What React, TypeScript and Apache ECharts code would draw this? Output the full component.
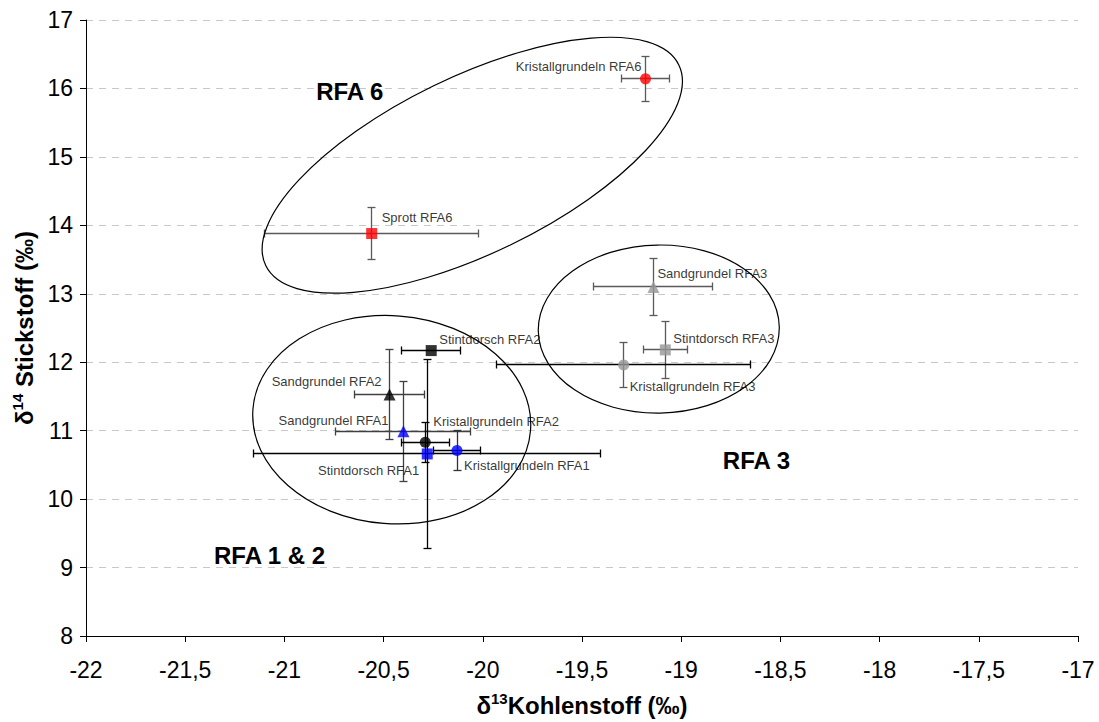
import React, { useEffect, useRef } from "react";
import * as echarts from "echarts";

// ---- data ----
const NAMES = [
  "Kristallgrundeln RFA6",
  "Sprott RFA6",
  "Sandgrundel RFA3",
  "Stintdorsch RFA3",
  "Kristallgrundeln RFA3",
  "Stintdorsch RFA2",
  "Sandgrundel RFA2",
  "Sandgrundel RFA1",
  "Kristallgrundeln RFA2",
  "Kristallgrundeln RFA1",
  "Stintdorsch RFA1",
];
const C13 = [-19.18, -20.56, -19.14, -19.08, -19.29, -20.26, -20.47, -20.4, -20.29, -20.13, -20.28];
const N15 = [16.14, 13.88, 13.1, 12.18, 11.96, 12.17, 11.53, 10.99, 10.83, 10.71, 10.66];
const C13_ERR = [0.12, 0.54, 0.3, 0.11, 0.64, 0.15, 0.175, 0.34, 0.12, 0.12, 0.875];
const N15_ERR = [0.33, 0.38, 0.42, 0.42, 0.33, 0, 0.66, 0.73, 0.29, 0.29, 1.38];

const X_MIN = -22;
const X_MAX = -17;
const X_STEP = 0.5;
const Y_MIN = 8;
const Y_MAX = 17;
const Y_STEP = 1;

const REGION_LABELS = ["RFA 6", "RFA 1 & 2", "RFA 3"];
const REGION_ANCHOR_X = [-20.84, -21.355, -18.79];
const REGION_ANCHOR_Y = [15.96, 9.17, 10.57];

// ellipse centres (data units)
const ELLIPSE_CX = [-20.053, -20.459, -19.113];
const ELLIPSE_CY = [14.878, 11.16, 12.485];

// ---- styles ----
const RED = "#ff0000";
const BLUE = "#0000ff";
const BLACK = "#000000";
const GREY = "#969696";
const SYMBOLS = ["circle", "rect", "triangle", "rect", "circle", "rect", "triangle", "triangle", "circle", "circle", "rect"];
const COLORS = [RED, RED, GREY, GREY, GREY, BLACK, BLACK, BLUE, BLACK, BLUE, BLUE];
const SIZES = [11, 11, 12, 11, 11, 11, 12, 12, 11, 11, 11];
const EX_COLORS = ["#5a5a5a", "#5a5a5a", "#5a5a5a", "#5a5a5a", "#000", "#000", "#404040", "#404040", "#000", "#000", "#000"];
const EY_COLORS = ["#5a5a5a", "#5a5a5a", "#5a5a5a", "#5a5a5a", "#5a5a5a", "#000", "#404040", "#404040", "#000", "#333", "#000"];
const LABEL_ALIGN = ["right", "left", "left", "left", "left", "left", "right", "right", "left", "left", "right"];
const LABEL_OFFSET = [
  [-4, -12],
  [10, -16],
  [4, -13],
  [8, -11],
  [6, 22],
  [8, -11],
  [-8, -13],
  [-15, -11],
  [8, -21],
  [7, 15],
  [-8, 17],
];
const ELLIPSE_RX = [229.5, 139.2, 120.5];
const ELLIPSE_RY = [88.3, 104, 84];
const ELLIPSE_ROT_DEG = [25.9, -4.4, 1];

const FONT = '"Liberation Sans", Arial, sans-serif';

export default function App() {
  const ref = useRef<HTMLDivElement>(null);

  useEffect(() => {
    const chart = echarts.init(ref.current!, null, { renderer: "svg" });

    const scatterData = NAMES.map((name, i) => ({
      name,
      value: [C13[i], N15[i]],
      symbol: SYMBOLS[i],
      symbolSize: SIZES[i],
      itemStyle: { color: COLORS[i] },
      label: {
        show: true,
        formatter: name,
        position: "inside",
        align: LABEL_ALIGN[i],
        verticalAlign: "middle",
        offset: LABEL_OFFSET[i],
        color: "#000",
        fontSize: 13,
        fontFamily: FONT,
      },
    }));

    const errData = NAMES.map((_, i) => [C13[i], N15[i]]);

    const crisp = (v: number) => Math.round(v - 0.5) + 0.5;

    const titleRich = {
      b: { fontSize: 24, fontWeight: "bold", fontFamily: FONT, color: "#000", lineHeight: 28 },
      s: { fontSize: 15, fontWeight: "bold", fontFamily: FONT, color: "#000", verticalAlign: "top", lineHeight: 28 },
    };

    const option: any = {
      animation: false,
      backgroundColor: "#fff",
      grid: { left: 86, right: 21, top: 20, bottom: 83, containLabel: false },
      xAxis: {
        type: "value",
        min: X_MIN,
        max: X_MAX,
        interval: X_STEP,
        axisLine: { show: true, onZero: false, lineStyle: { color: "#000", width: 1 } },
        axisTick: { show: true, inside: false, length: 6, lineStyle: { color: "#000" } },
        splitLine: { show: false },
        axisLabel: {
          color: "#000",
          fontSize: 23,
          fontFamily: FONT,
          margin: 22,
          formatter: (v: number) => String(v).replace(".", ","),
        },
        name: "{b|δ}{s|13}{b|Kohlenstoff (‰)}",
        nameLocation: "middle",
        nameGap: 55,
        nameTextStyle: { rich: titleRich },
      },
      yAxis: {
        type: "value",
        min: Y_MIN,
        max: Y_MAX,
        interval: Y_STEP,
        axisLine: { show: true, onZero: false, lineStyle: { color: "#000", width: 1 } },
        axisTick: { show: true, inside: false, length: 6, lineStyle: { color: "#000" } },
        splitLine: { show: true, lineStyle: { color: "#c8c8c8", type: [7, 6], width: 1 } },
        axisLabel: { color: "#000", fontSize: 23, fontFamily: FONT, margin: 13 },
        name: "{b|δ}{s|14}{b| Stickstoff (‰)}",
        nameLocation: "middle",
        nameGap: 48,
        nameTextStyle: { rich: titleRich },
      },
      series: [
        {
          type: "custom",
          name: "errors",
          data: errData,
          encode: { x: 0, y: 1 },
          z: 2,
          silent: true,
          clip: false,
          renderItem: (params: any, api: any) => {
            const i = params.dataIndex;
            const x = api.value(0);
            const y = api.value(1);
            const xe = C13_ERR[i];
            const ye = N15_ERR[i];
            const cap = 4;
            const children: any[] = [];
            if (xe > 0) {
              const l = api.coord([x - xe, y]);
              const r = api.coord([x + xe, y]);
              const yy = crisp(l[1]);
              const lx = crisp(l[0]);
              const rx = crisp(r[0]);
              const st = { stroke: EX_COLORS[i], lineWidth: 1.3 };
              children.push({ type: "line", shape: { x1: lx, y1: yy, x2: rx, y2: yy }, style: st });
              children.push({ type: "line", shape: { x1: lx, y1: yy - cap, x2: lx, y2: yy + cap }, style: st });
              children.push({ type: "line", shape: { x1: rx, y1: yy - cap, x2: rx, y2: yy + cap }, style: st });
            }
            if (ye > 0) {
              const t = api.coord([x, y + ye]);
              const b = api.coord([x, y - ye]);
              const xx = crisp(t[0]);
              const ty = crisp(t[1]);
              const by = crisp(b[1]);
              const st = { stroke: EY_COLORS[i], lineWidth: 1.3 };
              children.push({ type: "line", shape: { x1: xx, y1: ty, x2: xx, y2: by }, style: st });
              children.push({ type: "line", shape: { x1: xx - cap, y1: ty, x2: xx + cap, y2: ty }, style: st });
              children.push({ type: "line", shape: { x1: xx - cap, y1: by, x2: xx + cap, y2: by }, style: st });
            }
            return { type: "group", children };
          },
        },
        {
          type: "scatter",
          name: "points",
          data: scatterData,
          z: 3,
        },
      ],
    };

    chart.setOption(option);

    const graphics: any[] = [];
    ELLIPSE_CX.forEach((cx, i) => {
      const p = chart.convertToPixel({ gridIndex: 0 }, [cx, ELLIPSE_CY[i]]) as number[];
      graphics.push({
        type: "ellipse",
        x: p[0],
        y: p[1],
        rotation: (ELLIPSE_ROT_DEG[i] * Math.PI) / 180,
        shape: { cx: 0, cy: 0, rx: ELLIPSE_RX[i], ry: ELLIPSE_RY[i] },
        style: { fill: "none", stroke: "#000", lineWidth: 1.2 },
        silent: true,
        z: 10,
      });
    });
    REGION_LABELS.forEach((t, i) => {
      const p = chart.convertToPixel({ gridIndex: 0 }, [REGION_ANCHOR_X[i], REGION_ANCHOR_Y[i]]) as number[];
      graphics.push({
        type: "text",
        x: p[0],
        y: p[1],
        style: {
          text: t,
          fill: "#000",
          fontSize: 24,
          fontWeight: "bold",
          fontFamily: FONT,
          align: "left",
          verticalAlign: "middle",
        },
        silent: true,
        z: 10,
      });
    });
    chart.setOption({ graphic: graphics });

    return () => chart.dispose();
  }, []);

  return (
    <div
      ref={ref}
      style={{ position: "fixed", left: 0, top: 0, width: 1099, height: 722, background: "#fff" }}
    />
  );
}
